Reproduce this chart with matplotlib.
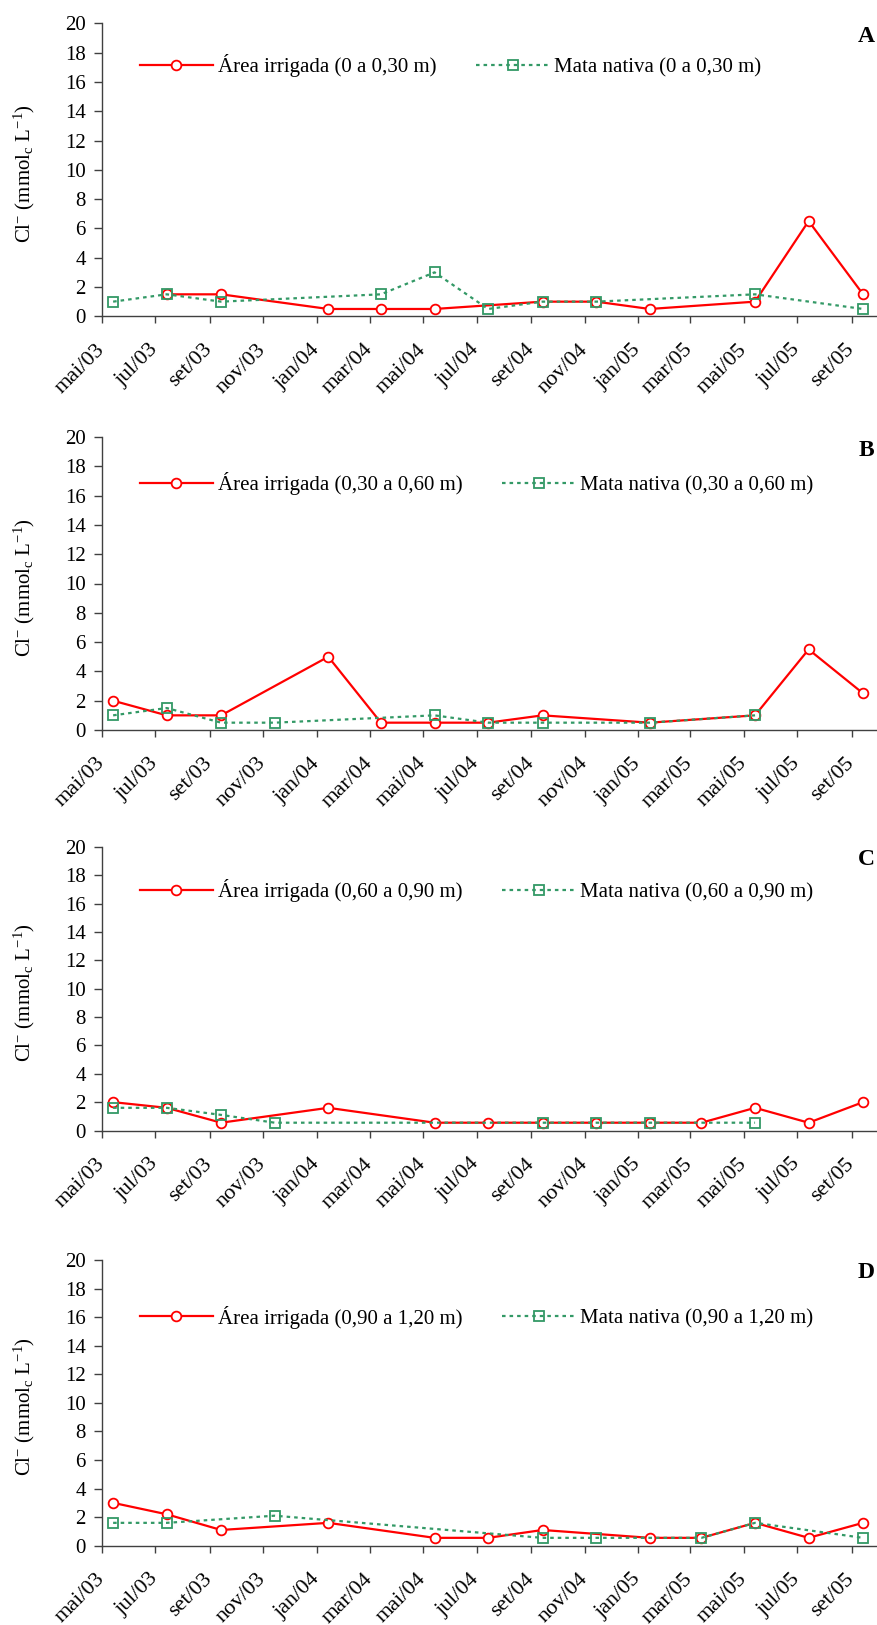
import numpy as np
import pandas as pd
import matplotlib
matplotlib.use("Agg")
import matplotlib.pyplot as plt

plt.rcParams['font.family'] = ['Liberation Serif', 'DejaVu Serif']
plt.rcParams['mathtext.fontset'] = 'custom'
plt.rcParams['mathtext.rm'] = 'Liberation Serif'
plt.rcParams['mathtext.it'] = 'Liberation Serif:italic'

# ---- data ----
sample_dates = ["2003-05-14", "2003-07-14", "2003-09-14", "2003-11-14", "2004-01-14",
                "2004-03-14", "2004-05-14", "2004-07-14", "2004-09-14", "2004-11-14",
                "2005-01-14", "2005-03-14", "2005-05-14", "2005-07-14", "2005-09-14"]
tick_dates = ["2003-05-01", "2003-07-01", "2003-09-01", "2003-11-01", "2004-01-01",
              "2004-03-01", "2004-05-01", "2004-07-01", "2004-09-01", "2004-11-01",
              "2005-01-01", "2005-03-01", "2005-05-01", "2005-07-01", "2005-09-01"]
tick_labels = ["mai/03", "jul/03", "set/03", "nov/03", "jan/04", "mar/04", "mai/04",
               "jul/04", "set/04", "nov/04", "jan/05", "mar/05", "mai/05", "jul/05", "set/05"]
x_start, x_end = "2003-05-01", "2005-10-01"

nan = np.nan
irrig_A = [nan, 1.5, 1.5, nan, 0.5, 0.5, 0.5, nan, 1.0, 1.0, 0.5, nan, 1.0, 6.5, 1.5]
mata_A = [1.0, 1.5, 1.0, nan, nan, 1.5, 3.0, 0.5, 1.0, 1.0, nan, nan, 1.5, nan, 0.5]

irrig_B = [2.0, 1.0, 1.0, nan, 5.0, 0.5, 0.5, 0.5, 1.0, nan, 0.5, nan, 1.0, 5.5, 2.5]
mata_B = [1.0, 1.5, 0.5, 0.5, nan, nan, 1.0, 0.5, 0.5, nan, 0.5, nan, 1.0, nan, nan]

irrig_C = [2.0, 1.6, 0.55, nan, 1.6, nan, 0.55, 0.55, 0.55, 0.55, 0.55, 0.55, 1.6, 0.55, 2.0]
mata_C = [1.6, 1.6, 1.1, 0.55, nan, nan, nan, nan, 0.55, 0.55, 0.55, nan, 0.55, nan, nan]

irrig_D = [3.0, 2.2, 1.1, nan, 1.6, nan, 0.55, 0.55, 1.1, nan, 0.55, 0.55, 1.6, 0.55, 1.6]
mata_D = [1.6, 1.6, nan, 2.1, nan, nan, nan, nan, 0.55, 0.55, nan, 0.55, 1.6, nan, 0.55]

depths = ["0 a 0,30 m", "0,30 a 0,60 m", "0,60 a 0,90 m", "0,90 a 1,20 m"]
panel_letters = ["A", "B", "C", "D"]
irrig_series = [irrig_A, irrig_B, irrig_C, irrig_D]
mata_series = [mata_A, mata_B, mata_C, mata_D]
yticks = list(range(0, 21, 2))

# ---- layout ----
W, H = 878, 1625
fig = plt.figure(figsize=(W / 100, H / 100), dpi=100)
left = 101.7 / W
# (y of value 0, y of value 20) in pixels from top
panel_px = [(316.3, 23.3), (730.0, 437.0), (1130.5, 847.0), (1545.7, 1260.0)]
legend_y = [17.1, 16.8, 16.9, 16.0]

RED = "#FF0000"
GREEN = "#339966"
FS = 15

dates = pd.to_datetime(sample_dates)
tdates = pd.to_datetime(tick_dates)

for i in range(4):
    y0, y20 = panel_px[i]
    ax = fig.add_axes([left, 1 - y0 / H, 1 - left, (y0 - y20) / H])
    r = np.array(irrig_series[i], dtype=float)
    g = np.array(mata_series[i], dtype=float)
    mr = ~np.isnan(r)
    mg = ~np.isnan(g)
    ax.plot(dates[mr], r[mr], color=RED, lw=1.6, marker='o', ms=7,
            mfc='white', mec=RED, mew=1.3,
            label=f"Área irrigada ({depths[i]})", zorder=3)
    ax.plot(dates[mg], g[mg], color=GREEN, lw=1.6, ls=(0, (1.6, 1.8)), marker='s', ms=7.5,
            mfc='none', mec=GREEN, mew=1.3,
            label=f"Mata nativa ({depths[i]})", zorder=4)

    ax.set_ylim(0, 20)
    ax.set_yticks(yticks)
    ax.set_xlim(pd.Timestamp(x_start), pd.Timestamp(x_end))
    ax.set_xticks(tdates)
    ax.set_xticklabels(tick_labels)
    for s in ['top', 'right']:
        ax.spines[s].set_visible(False)
    for s in ['left', 'bottom']:
        ax.spines[s].set_color('#404040')
        ax.spines[s].set_linewidth(1.0)
    ax.tick_params(axis='y', direction='out', length=5.5, width=1.0, color='#404040',
                   labelsize=FS, pad=6)
    ax.tick_params(axis='x', direction='out', length=5, width=1.0, color='#404040',
                   labelsize=16, pad=17)
    for lab in ax.get_xticklabels():
        lab.set_rotation(45)
        lab.set_ha('right')
        lab.set_va('center')
        lab.set_rotation_mode('anchor')

    ax.text(-0.099, 0.487, r"Cl$^{-}$ (mmol$_{\mathrm{c}}$ L$^{-1}$)", transform=ax.transAxes,
            rotation=90, ha='center', va='center', fontsize=FS)
    ax.text(0.985, 0.955, panel_letters[i], transform=ax.transAxes, ha='center', va='center',
            fontsize=17, fontweight='bold')

    ax.legend(loc='center left', bbox_to_anchor=(0.0492, legend_y[i] / 20.0), ncol=2,
              frameon=False, fontsize=FS, handlelength=3.5, handletextpad=0.25,
              columnspacing=1.9, borderpad=0, borderaxespad=0, numpoints=1)

fig.savefig("out.png", dpi=100)
